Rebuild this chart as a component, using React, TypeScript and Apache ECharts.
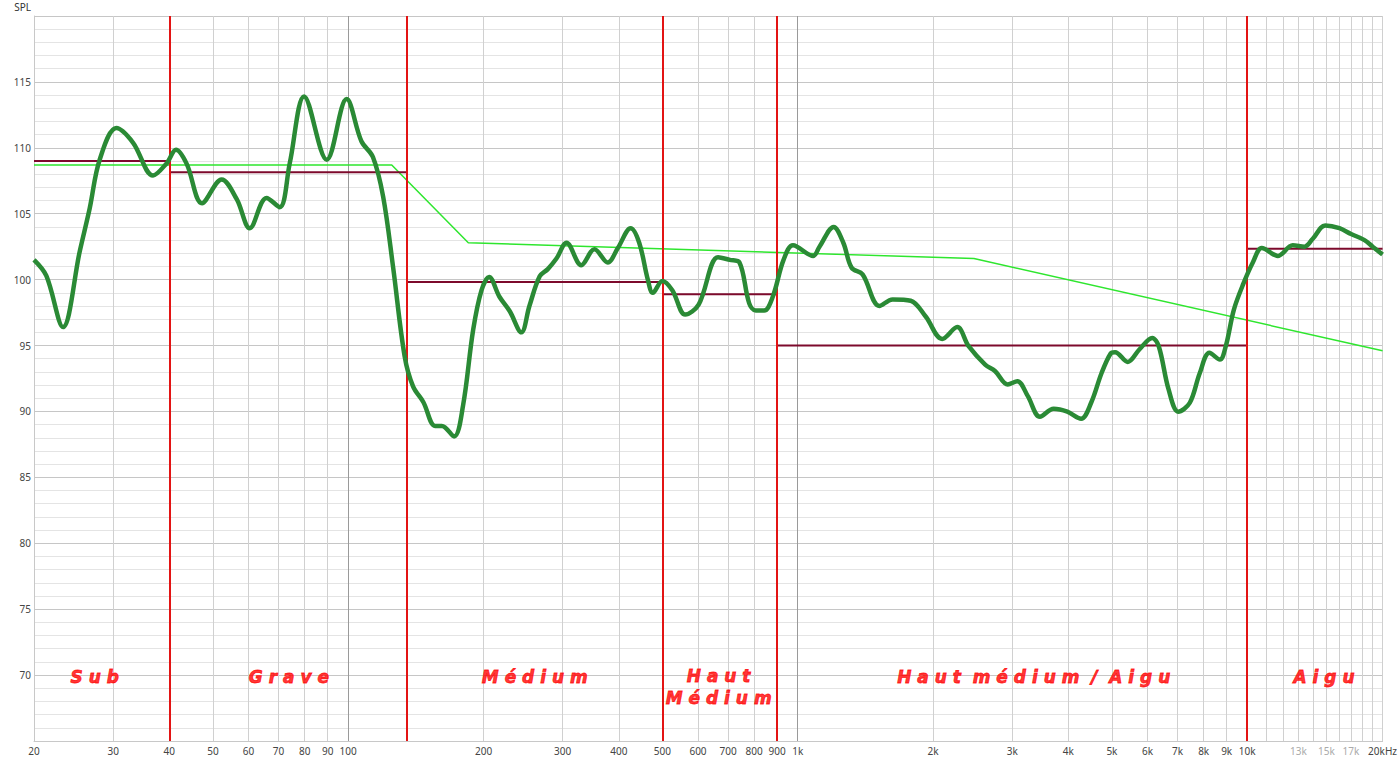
import React from "react";
import * as echarts from "echarts";

const responseHz = [
  20, 21.3, 23.2, 25.3, 26.6, 28, 30.5, 33.2, 36.8, 39.4, 41.4, 43.7, 47.3, 52.3, 56.5, 60.4,
  65.8, 70.4, 74.1, 79.8, 89.6, 99.2, 107, 113.5, 119.6, 125.8, 133.5, 139.4, 147, 156, 161.6,
  172, 180, 189.7, 198, 205.8, 217, 228.8, 242.8, 253, 266.7, 278, 290.6, 306, 330, 353, 378,
  398, 425, 444, 464, 476, 500, 526, 562, 602, 665, 706, 742, 780, 807, 842, 880, 930, 976,
  1082, 1118, 1202, 1263, 1318, 1394, 1520, 1626, 1784, 1926, 2096, 2264, 2400, 2612, 2750,
  2932, 3080, 3250, 3458, 3710, 3978, 4270, 4500, 4740, 4968, 5080, 5424, 5754, 6146, 6356,
  6684, 7026, 7452, 7840, 8240, 8692, 8960, 9340, 9820, 10290, 10776, 11696, 12626, 13406,
  13990, 14912, 16036, 17020, 18230, 19010, 20000,
];
const responseDb = [
  101.5, 100.3, 96.4, 102.2, 105.4, 109.1, 111.5, 110.4, 107.9, 108.8, 109.85, 108.8, 105.8,
  107.6, 106.1, 103.9, 106.2, 105.5, 108.8, 113.9, 109.1, 113.7, 110.5, 109.3, 106.3, 101,
  94.2, 91.9, 90.7, 88.9, 88.9, 88.1, 90.4, 96.2, 99.2, 100.2, 98.7, 97.6, 96, 98, 100.25,
  100.8, 101.6, 102.8, 101.1, 102.3, 101.3, 102.4, 103.9, 102.8, 100, 99, 99.9, 99.2, 97.35,
  98.1, 101.7, 101.5, 101.3, 98.2, 97.65, 97.65, 98.7, 101.5, 102.6, 101.8, 102.5, 104, 102.8,
  100.9, 100.4, 98, 98.5, 98.4, 97.2, 95.5, 96.4, 94.95, 93.56, 93.05, 92.05, 92.3, 91.16,
  89.6, 90.2, 89.98, 89.45, 90.7, 92.9, 94.4, 94.5, 93.76, 94.7, 95.58, 94.95, 91.67, 89.98,
  90.66, 92.9, 94.45, 93.94, 94.95, 97.73, 99.75, 101.3, 102.4, 101.8, 102.6, 102.5, 103.1,
  104.1, 103.9, 103.46, 103, 102.5, 101.9,
];

// courbe cible
const targetHz = [20, 125, 185, 2466, 20000];
const targetDb = [108.7, 108.7, 102.8, 101.6, 94.6];

// bandes : limites, niveau moyen, nom, position du nom
const bandEdges = [20, 40, 135, 500, 900, 10000, 20000];
const bandLevels = [109.0, 108.15, 99.83, 98.9, 95.0, 102.35];
const bandNames = ["S u b", "G r a v e", "M é d i u m", "H a u t\nM é d i u m", "H a u t  m é d i u m  /  A i g u", "A i g u"];
const bandLabelHz = [27.3, 73.8, 260, 667, 3350, 14820];
const bandLabelDb = [69.85, 69.85, 69.85, 69.1, 69.85, 69.85];

// graduations de l'axe des fréquences
const xTicks = [20, 30, 40, 50, 60, 70, 80, 90, 100, 200, 300, 400, 500, 600, 700, 800, 900, 1000, 2000, 3000, 4000, 5000, 6000, 7000, 8000, 9000, 10000, 13000, 15000, 17000, 20000];
const xLabels = ["20", "30", "40", "50", "60", "70", "80", "90", "100", "200", "300", "400", "500", "600", "700", "800", "900", "1k", "2k", "3k", "4k", "5k", "6k", "7k", "8k", "9k", "10k", "{g|13k}", "{g|15k}", "{g|17k}", "20kHz"];
const gridHz = [
  30, 40, 50, 60, 70, 80, 90, 100, 200, 300, 400, 500, 600, 700, 800, 900, 1000, 2000, 3000,
  4000, 5000, 6000, 7000, 8000, 9000, 10000, 11000, 12000, 13000, 14000, 15000, 16000, 17000,
  18000, 19000, 20000,
];
const darkGridHz = [100, 1000, 10000];

const FONT = "'Noto Sans', 'DejaVu Sans', sans-serif";

export default function App() {
  const ref = React.useRef<HTMLDivElement>(null);

  React.useEffect(() => {
    if (!ref.current) return;
    const chart = echarts.init(ref.current, undefined, { renderer: "svg" });

    const labelFor = (v: number) => {
      let best = 0;
      for (let i = 1; i < xTicks.length; i++) {
        if (Math.abs(Math.log(xTicks[i] / v)) < Math.abs(Math.log(xTicks[best] / v))) best = i;
      }
      return xLabels[best];
    };

    const bandSeries: any[] = bandLevels.map((lvl, i) => ({
      type: "line",
      z: 4,
      symbol: "none",
      silent: true,
      lineStyle: { color: "#7d0a2c", width: 2 },
      data: [
        [bandEdges[i], lvl],
        [bandEdges[i + 1], lvl],
      ],
    }));

    const option: echarts.EChartsOption = {
      animation: false,
      backgroundColor: "#ffffff",
      grid: { left: 34, right: 17, top: 16, bottom: 20, containLabel: false },
      xAxis: {
        type: "log",
        logBase: 10,
        min: 20,
        max: 20000,
        axisLine: { show: true, lineStyle: { color: "#c8c8c8" } },
        axisTick: { show: false },
        splitLine: { show: false },
        axisLabel: {
          customValues: xTicks,
          formatter: (v: number) => labelFor(v),
          color: "#444",
          fontFamily: FONT,
          fontSize: 10,
          margin: 5,
          rich: { g: { color: "#aaaaaa", fontFamily: FONT, fontSize: 10 } },
        },
      } as any,
      yAxis: {
        type: "value",
        min: 65,
        max: 120,
        interval: 5,
        name: "SPL",
        nameLocation: "end",
        nameGap: 4,
        nameTextStyle: { color: "#333", fontFamily: FONT, fontSize: 10, align: "right", padding: [0, 3, 0, 0] },
        axisLine: { show: true, lineStyle: { color: "#c8c8c8" } },
        axisTick: { show: false },
        axisLabel: {
          showMinLabel: false,
          showMaxLabel: false,
          color: "#444",
          fontFamily: FONT,
          fontSize: 10,
          margin: 3,
        },
        splitLine: { show: true, lineStyle: { color: "#c6c6c6", width: 1 } },
        minorTick: { show: false, splitNumber: 5 },
        minorSplitLine: { show: true, lineStyle: { color: "#e4e4e4", width: 1 } },
      },
      series: [
        {
          // quadrillage vertical
          type: "line",
          z: 1,
          symbol: "none",
          silent: true,
          lineStyle: { width: 0, opacity: 0 },
          data: [[20, 65]],
          markLine: {
            silent: true,
            z: 1,
            symbol: ["none", "none"],
            label: { show: false },
            data: gridHz.map((hz) => ({
              xAxis: hz,
              lineStyle: {
                color: darkGridHz.includes(hz) ? "#9a9a9a" : "#d0d0d0",
                width: 1,
                type: "solid",
              },
            })),
          },
        },
        {
          type: "line",
          name: "Cible",
          z: 3,
          symbol: "none",
          silent: true,
          lineStyle: { color: "#2ee62e", width: 1.5 },
          data: targetHz.map((hz, i) => [hz, targetDb[i]]),
        },
        ...bandSeries,
        {
          type: "line",
          name: "Réponse",
          z: 6,
          symbol: "none",
          smooth: 0.35,
          silent: true,
          lineStyle: { color: "#2a8a35", width: 4.5 },
          data: responseHz.map((hz, i) => [hz, responseDb[i]]),
        },
        {
          // séparations des bandes
          type: "line",
          z: 5,
          symbol: "none",
          silent: true,
          lineStyle: { width: 0, opacity: 0 },
          data: [[20, 65]],
          markLine: {
            silent: true,
            z: 5,
            symbol: ["none", "none"],
            label: { show: false },
            lineStyle: { color: "#e31414", width: 2, type: "solid" },
            data: bandEdges.slice(1, -1).map((hz) => ({ xAxis: hz })),
          },
        },
        {
          type: "scatter",
          z: 7,
          silent: true,
          symbolSize: 1,
          itemStyle: { color: "rgba(0,0,0,0)" },
          label: {
            show: true,
            position: "inside",
            formatter: (p: any) => bandNames[p.dataIndex],
            color: "#ff0000",
            textBorderColor: "#ff0000",
            textBorderWidth: 0.8,
            fontFamily: "'DejaVu Sans', sans-serif",
            fontWeight: "bold",
            fontStyle: "italic",
            fontSize: 17,
            lineHeight: 22,
            align: "center",
          },
          data: bandLabelHz.map((hz, i) => [hz, bandLabelDb[i]]),
        },
      ],
    };

    chart.setOption(option);
    const onResize = () => chart.resize();
    window.addEventListener("resize", onResize);
    return () => {
      window.removeEventListener("resize", onResize);
      chart.dispose();
    };
  }, []);

  return (
    <div
      ref={ref}
      style={{ position: "fixed", left: 0, top: 0, width: 1400, height: 761, background: "#fff" }}
    />
  );
}
